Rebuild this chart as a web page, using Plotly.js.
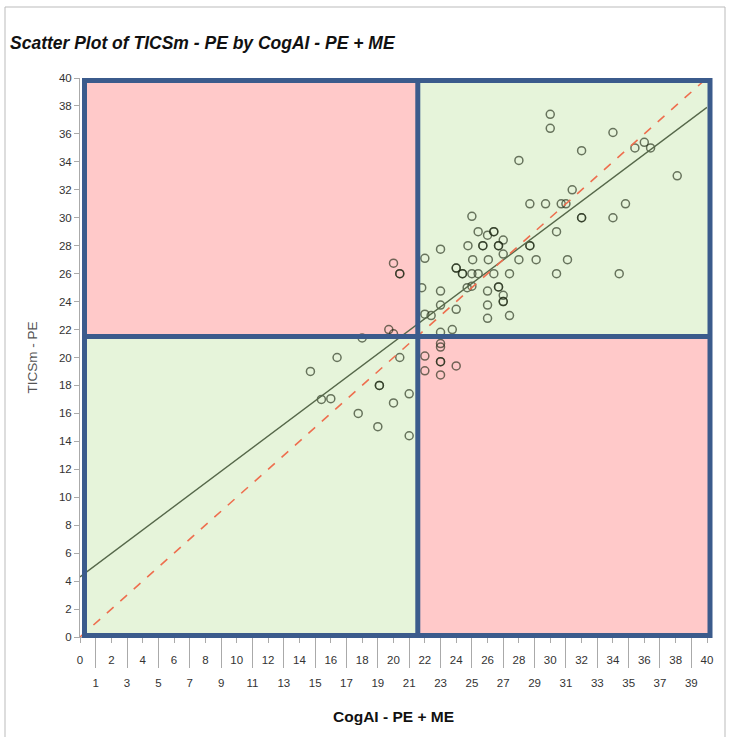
<!DOCTYPE html>
<html>
<head>
<meta charset="utf-8">
<script src="https://cdn.plot.ly/plotly-3.0.1.min.js"></script>
<style>html,body{margin:0;padding:0;background:#fff;}#chart{width:734px;height:737px;}</style>
</head>
<body>
<div id="chart"></div>
<script>
// CogAI - PE + ME (x) and TICSm - PE (y)
const cogAI = [30.0,30.0,34.0,32.0,28.0,35.4,36.0,36.4,38.1,31.4,
  28.7,29.7,30.7,31.0,34.8,32.0,32.0,34.0,30.4,28.7,28.7,
  28.0,29.1,31.1,30.4,34.4,25.0,25.4,26.0,26.4,26.4,27.0,
  24.75,25.7,25.7,26.7,26.7,23.0,22.0,25.05,26.05,27.0,24.0,24.0,24.4,24.4,
  25.0,25.4,26.4,27.4,21.8,23.0,24.7,25.0,26.0,26.7,26.7,
  27.0,27.0,27.0,23.0,24.0,26.0,27.4,22.0,22.4,26.0,23.0,
  23.75,20.0,20.4,20.4,19.7,20.0,18.0,16.4,14.7,20.4,
  19.1,19.1,21.0,15.4,16.0,20.0,17.75,19.0,21.0,23.0,
  23.0,22.0,23.0,23.0,24.0,22.0,23.0];
const ticsm = [37.4,36.4,36.1,34.8,34.1,35.0,35.4,35.0,33.0,32.0,
  31.0,31.0,31.0,31.0,31.0,30.0,30.0,30.0,29.0,28.0,28.0,
  27.0,27.0,27.0,26.0,26.0,30.1,29.0,28.75,29.0,29.0,28.4,
  28.0,28.0,28.0,28.0,28.0,27.75,27.1,27.0,27.0,27.4,26.4,26.4,26.0,26.0,
  26.0,26.0,26.0,26.0,25.0,24.75,25.0,25.1,24.75,25.05,25.05,
  24.45,24.0,24.0,23.75,23.45,23.75,23.0,23.1,23.0,22.8,21.8,
  22.0,26.75,26.0,26.0,22.0,21.7,21.4,20.0,19.0,20.0,
  18.0,18.0,17.4,17.0,17.05,16.75,16.0,15.05,14.4,21.0,
  20.75,20.1,19.7,19.7,19.4,19.05,18.75];

// regression fit line and identity reference line
const fitX = [0, 40];
const fitY = [4.3, 37.9];
const refX = [0, 40];
const refY = [0, 40];

// quadrant cut-offs
const xCut = 21.55;
const yCut = 21.5;

// tick labels
const evenTicks = [];
for (let v = 0; v <= 40; v += 2) evenTicks.push(v);
const oddTicks = [];
for (let v = 1; v <= 39; v += 2) oddTicks.push(v);
const yTicks = evenTicks.slice();

const W = 734, H = 737;
const M = {l: 80, r: 27, t: 78, b: 100};
const plotW = W - M.l - M.r, plotH = H - M.t - M.b;
const XR = [0, 40], YR = [0, 40];
// helpers converting pixels / data values to paper coordinates
const pxX = p => (p - M.l) / plotW;
const pxY = p => (H - M.b - p) / plotH;
const dX = v => (v - XR[0]) / (XR[1] - XR[0]);
const dY = v => (v - YR[0]) / (YR[1] - YR[0]);

const FL = pxX(84.5), FR = pxX(710), FB = pxY(635.5), FT = pxY(80.5);
const CX = dX(xCut), CY = dY(yCut);
const pink = '#FFC9C9', green = '#E6F4DA', blue = '#3B5B8C';

const shapes = [
  {type:'rect', xref:'paper', yref:'paper', x0:pxX(5), x1:pxX(725), y0:pxY(760), y1:pxY(7), line:{color:'#BBBBBB', width:1}, fillcolor:'rgba(0,0,0,0)', layer:'below'},
  {type:'rect', xref:'paper', yref:'paper', x0:FL, x1:CX, y0:CY, y1:FT, fillcolor:pink, line:{width:0}, layer:'below'},
  {type:'rect', xref:'paper', yref:'paper', x0:CX, x1:FR, y0:CY, y1:FT, fillcolor:green, line:{width:0}, layer:'below'},
  {type:'rect', xref:'paper', yref:'paper', x0:FL, x1:CX, y0:FB, y1:CY, fillcolor:green, line:{width:0}, layer:'below'},
  {type:'rect', xref:'paper', yref:'paper', x0:CX, x1:FR, y0:FB, y1:CY, fillcolor:pink, line:{width:0}, layer:'below'},
  {type:'rect', xref:'paper', yref:'paper', x0:FL, x1:FR, y0:FB, y1:FT, fillcolor:'rgba(0,0,0,0)', line:{color:blue, width:5}, layer:'above'},
  {type:'line', xref:'paper', yref:'paper', x0:CX, x1:CX, y0:FB, y1:FT, line:{color:blue, width:5}, layer:'above'},
  {type:'line', xref:'paper', yref:'paper', x0:FL, x1:FR, y0:CY, y1:CY, line:{color:blue, width:5}, layer:'above'}
];

const FONT = 'Liberation Sans, Arial, sans-serif';

const traces = [
  {x: cogAI, y: ticsm, type:'scatter', mode:'markers', xaxis:'x', yaxis:'y',
   marker:{symbol:'circle-open', size:8, color:'rgba(25,35,15,0.62)', line:{width:1.5, color:'rgba(25,35,15,0.62)'}},
   hoverinfo:'x+y', showlegend:false, cliponaxis:false},
  {x: fitX, y: fitY, type:'scatter', mode:'lines', xaxis:'x', yaxis:'y',
   line:{color:'#56684A', width:1.4}, showlegend:false, hoverinfo:'skip'},
  {x: refX, y: refY, type:'scatter', mode:'lines', xaxis:'x2', yaxis:'y',
   line:{color:'#EE6E4E', width:1.6, dash:'dash'}, showlegend:false, hoverinfo:'skip'}
];

const layout = {
  width: W, height: H,
  margin: M,
  paper_bgcolor:'#fff', plot_bgcolor:'rgba(0,0,0,0)',
  font:{family:FONT, color:'#333'},
  title:{text:'Scatter Plot of TICSm - PE by CogAI - PE + ME', xref:'container', yref:'container',
         x: 10/W, xanchor:'left', y: 1 - 43/H, yanchor:'middle',
         font:{family:FONT, size:17.5, weight:'bold', style:'italic', color:'#111'}},
  xaxis:{range:XR, tickmode:'array', tickvals:evenTicks, ticktext:evenTicks.map(String),
         ticks:'outside', ticklen:5, tickcolor:'#AAAAAA', tickwidth:1, ticklabelstandoff:7,
         showline:true, linecolor:'#AAAAAA', linewidth:1, showgrid:false, zeroline:false,
         tickfont:{size:11.5, color:'#333'}, fixedrange:true,
         title:{text:'CogAI - PE + ME', standoff:46, font:{size:15.5, weight:'bold', color:'#111'}}},
  xaxis2:{range:XR, overlaying:'x', anchor:'y', side:'bottom', tickmode:'array', tickvals:oddTicks,
          ticktext:oddTicks.map(String), ticks:'outside', ticklen:30, tickcolor:'#AAAAAA', tickwidth:1,
          ticklabelstandoff:5, showline:false, showgrid:false, zeroline:false,
          tickfont:{size:11.5, color:'#333'}, fixedrange:true},
  yaxis:{range:YR, tickmode:'array', tickvals:yTicks, ticktext:yTicks.map(String),
         ticks:'outside', ticklen:5, tickcolor:'#AAAAAA', tickwidth:1,
         showline:true, linecolor:'#AAAAAA', linewidth:1, showgrid:false, zeroline:false,
         tickfont:{size:11.5, color:'#333'}, fixedrange:true,
         title:{text:'TICSm - PE', standoff:18, font:{size:13.5, color:'#555'}}},
  shapes: shapes,
  showlegend:false
};

Plotly.newPlot('chart', traces, layout, {displayModeBar:false, staticPlot:true});
</script>
</body>
</html>
